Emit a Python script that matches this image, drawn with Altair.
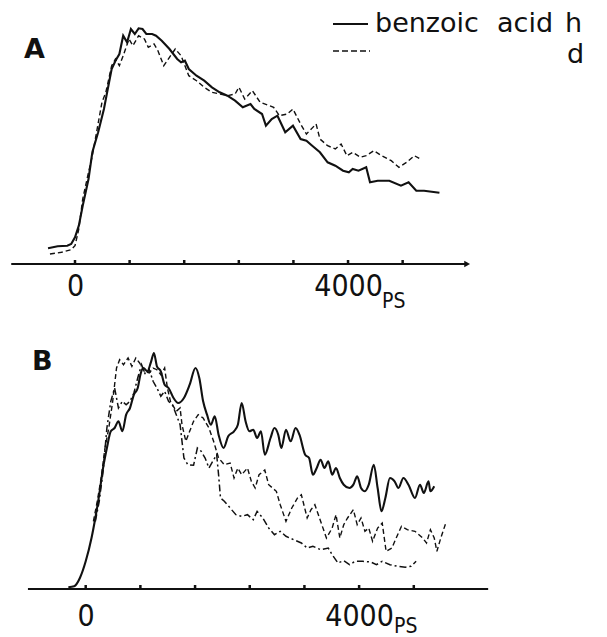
import altair as alt
import pandas as pd

# ---------------- data (time in ps, signal in arbitrary units) ----------------
A_h_ps = [-395, -254, -113, -56, 0, 56, 113, 198, 254, 339, 424, 480, 537, 593, 650, 706, 763, 819, 876, 932,
          989, 1045, 1130, 1187, 1271, 1384, 1497, 1554, 1610, 1667, 1780, 1893, 2006, 2119, 2232, 2345, 2458,
          2571, 2627, 2740, 2797, 2882, 2966, 3080, 3193, 3305, 3390, 3475, 3588, 3701, 3814, 3927, 4012, 4068,
          4153, 4266, 4322, 4435, 4605, 4775, 4887, 5000, 5114, 5226, 5339]
A_h_v = [15.7, 17.7, 18.3, 20, 26.7, 38.3, 58.3, 85, 111.7, 131.7, 155, 175, 195, 203.3, 210, 228.3, 221.7, 235,
         230, 235.7, 235, 230, 230, 228.3, 223.3, 215, 205, 201.7, 203.3, 195, 188.3, 183.3, 176.7, 171.7, 168.3,
         163.3, 156.7, 160, 155, 150, 138.3, 145, 148.3, 131.7, 138.3, 125, 123.3, 118.3, 111.7, 101.7, 98.3,
         93.3, 91.7, 95, 93.3, 96.7, 81.7, 83.3, 83.3, 78.3, 81.7, 73.3, 73.3, 72.3, 71.3]

A_d_ps = [-367, -198, -56, 0, 56, 113, 198, 254, 395, 452, 537, 593, 650, 706, 791, 848, 932, 1017, 1074, 1158,
          1215, 1300, 1384, 1469, 1554, 1667, 1780, 1893, 2006, 2119, 2232, 2345, 2402, 2486, 2599, 2712, 2910,
          2995, 3108, 3193, 3305, 3390, 3532, 3588, 3701, 3814, 3899, 3983, 4068, 4181, 4266, 4379, 4492, 4633,
          4746, 4859, 4972, 5057]
A_d_v = [10, 11.7, 14.3, 18.3, 35, 65, 91.7, 108.3, 161.7, 171.7, 198.3, 205, 198.3, 208.3, 225, 218.3, 228.3,
         225, 216.7, 220, 213.3, 198.3, 206.7, 215, 208.3, 188.3, 183.3, 176.7, 171.7, 170, 168.3, 170, 176.7,
         165, 173.3, 161.7, 156.7, 148.3, 150, 155, 140, 130, 140, 125, 118.3, 115, 120, 108.3, 111.7, 106.7,
         108.3, 113.3, 108.3, 103.3, 96.7, 101.7, 108.3, 105]

B_h_ps = [-254, -169, -85, 0, 85, 141, 198, 254, 310, 367, 423, 479, 536, 592, 648, 705, 761, 800, 845, 902, 958,
          998, 1042, 1099, 1155, 1212, 1285, 1352, 1437, 1521, 1606, 1662, 1718, 1775, 1831, 1888, 1944, 2017,
          2085, 2170, 2226, 2282, 2339, 2395, 2451, 2508, 2564, 2620, 2704, 2761, 2817, 2862, 2930, 2998, 3071,
          3127, 3211, 3268, 3324, 3380, 3437, 3493, 3549, 3606, 3662, 3718, 3775, 3859, 3916, 3972, 4028, 4085,
          4141, 4215, 4271, 4327, 4384, 4451, 4519, 4575, 4648, 4722, 4817, 4891, 4947, 5015, 5043, 5099]
B_h_v = [1.7, 2.7, 11, 27.7, 51, 71, 94.3, 121, 141, 157.7, 161, 167.7, 157.7, 174.3, 181, 194.3, 201, 214.3,
         221, 217.7, 227.7, 236, 222.7, 217.7, 204.3, 201, 191, 186, 191, 204.3, 221, 211, 187.7, 174.3, 164.3,
         172.7, 154.3, 141, 152.7, 157.7, 164.3, 186, 167.7, 157.7, 159.3, 151, 157.7, 134.3, 151, 161, 154.3,
         141, 159.3, 147.7, 161, 154.3, 134.3, 131, 114.3, 121, 129.3, 121, 127.7, 114.3, 121, 111, 104.3, 101,
         104.3, 112.7, 101, 97.7, 104.3, 124.3, 101, 77.7, 91, 111, 107.7, 101, 111, 104.3, 91, 104.3, 96, 107.7,
         97.7, 102.7]

B_d_ps = [113, 169, 226, 282, 338, 395, 451, 496, 553, 620, 676, 733, 789, 857, 930, 986, 1042, 1099, 1155, 1195,
          1240, 1325, 1381, 1409, 1465, 1521, 1578, 1646, 1718, 1803, 1871, 1944, 2028, 2113, 2170, 2226, 2282,
          2367, 2423, 2479, 2536, 2620, 2677, 2733, 2789, 2846, 2930, 3015, 3099, 3155, 3240, 3296, 3353, 3437,
          3522, 3606, 3662, 3718, 3775, 3831, 3916, 3972, 4028, 4085, 4141, 4197, 4271, 4338, 4395, 4479, 4564,
          4620, 4705, 4817, 4930, 4986, 5043, 5099, 5138, 5195, 5268]
B_d_v = [67.7, 87.7, 111, 141, 161, 187.7, 221, 229.3, 224.3, 231, 222.7, 231, 226, 217.7, 216, 221, 219.3,
         214.3, 221, 201, 187.7, 177.7, 181, 164.3, 147.7, 157.7, 167.7, 174.3, 171, 161, 147.7, 131, 124.3, 126,
         111, 121, 114.3, 121, 107.7, 101, 114.3, 119, 104.3, 101, 97.7, 84.3, 67.7, 81, 91, 94.3, 71, 79.3, 84.3,
         67.7, 51, 61, 74.3, 51, 64.3, 71, 79.3, 64.3, 71, 57.7, 61, 47.7, 61, 66, 37.7, 41, 54.3, 62.7, 59.3,
         57.7, 51, 46, 59.3, 51, 37.7, 51, 66]

B_c_ps = [141, 198, 254, 310, 367, 423, 479, 536, 592, 648, 705, 761, 817, 874, 930, 986, 1042, 1099, 1155, 1212,
          1268, 1325, 1381, 1409, 1437, 1494, 1578, 1634, 1690, 1747, 1803, 1859, 1916, 1944, 1972, 2028, 2113,
          2197, 2282, 2367, 2451, 2508, 2592, 2677, 2761, 2846, 2930, 3042, 3155, 3240, 3324, 3437, 3549, 3606,
          3691, 3775, 3859, 3944, 4056, 4169, 4254, 4338, 4451, 4564, 4676, 4761, 4834]
B_c_v = [67.7, 87.7, 117.7, 161, 187.7, 201, 181, 187.7, 184.3, 187.7, 196, 211, 224.3, 214.3, 219.3, 207.7, 201,
         192.7, 197.7, 187.7, 184.3, 174.3, 164.3, 147.7, 131, 124.3, 123.7, 141, 137.7, 131, 121, 127.7, 134.3,
         114.3, 91, 87.7, 81, 74.3, 72.7, 74.3, 69.3, 77.7, 71, 61, 54.3, 57.7, 52.7, 49.3, 46, 41, 42.7, 39.3,
         41, 34.3, 26, 28.3, 24.3, 27.7, 27.7, 27, 24.3, 27.7, 24.3, 22.7, 21.7, 22.7, 27.7]

tick_ps = [0, 800, 1600, 2400, 3200, 4000, 4800]
label_ps = [0, 4000]
axis_A = [-934, 5745]
axis_B = [-845, 5888]
legend_words = ["benzoic", "acid", "h", "d"]

INK = "#111111"
NUM_FONT = "DejaVu Sans Condensed, DejaVu Sans"
TXT_FONT = "DejaVu Sans"


def series(ps, v, name):
    return pd.DataFrame({"ps": ps, "v": v, "s": name})


def panel(curves, xdom, ydom, height, axis_range, arrow, label, pad, legend):
    xs = alt.Scale(domain=xdom, nice=False, zero=False)
    ys = alt.Scale(domain=ydom, nice=False, zero=False)
    xaxis = alt.Axis(values=label_ps, domain=False, ticks=False, grid=False, title=None, format="d",
                     labelFontSize=30, labelFont=NUM_FONT, labelColor=INK, labelPadding=pad,
                     labelFlush=False, labelOverlap=False, labelFontWeight="normal")

    def X(f="ps"):
        return alt.X(f"{f}:Q", scale=xs, axis=xaxis)

    def Y(f="v"):
        return alt.Y(f"{f}:Q", scale=ys, axis=None)

    layers = []
    for df, dash, sw, interp in curves:
        kw = {"strokeDash": dash} if dash else {}
        layers.append(alt.Chart(df).mark_line(color=INK, strokeWidth=sw, interpolate=interp, **kw)
                      .encode(x=X(), y=Y(), order="ps:Q"))
    # axis line
    ax = pd.DataFrame({"ps": [axis_range[0]], "ps2": [axis_range[1]], "v": [0]})
    layers.append(alt.Chart(ax).mark_rule(color=INK, strokeWidth=2.2).encode(x=X(), x2="ps2:Q", y=Y()))
    # small upward tick bumps
    tk = pd.DataFrame({"ps": tick_ps, "v": [0] * len(tick_ps), "v2": [4] * len(tick_ps)})
    layers.append(alt.Chart(tk).mark_rule(color=INK, strokeWidth=2.5).encode(x=X(), y=Y(), y2="v2:Q"))
    if arrow:
        ar = pd.DataFrame({"ps": [axis_range[1]], "v": [0]})
        layers.append(alt.Chart(ar).mark_point(shape="triangle-right", filled=True, size=45, color=INK,
                                                opacity=1).encode(x=X(), y=Y()))
    # "PS" unit subscript next to 4000
    ps_df = pd.DataFrame({"ps": [4000], "v": [-44], "t": ["PS"]})
    layers.append(alt.Chart(ps_df).mark_text(align="left", baseline="alphabetic", fontSize=21, font=NUM_FONT,
                                             color=INK, dx=legend["psdx"])
                  .encode(x=X(), y=Y(), text="t:N"))
    # panel letter
    layers.append(alt.Chart(pd.DataFrame({"t": [label]})).mark_text(
        align="left", baseline="alphabetic", fontSize=27, fontWeight="bold", font=TXT_FONT, color=INK)
        .encode(x=alt.value(legend["lx"]), y=alt.value(legend["ly"]), text="t:N"))
    if legend.get("show"):
        layers.append(alt.Chart(pd.DataFrame({"a": [0]})).mark_rule(color=INK, strokeWidth=1.8)
                      .encode(x=alt.value(333), x2=alt.value(368), y=alt.value(24)))
        layers.append(alt.Chart(pd.DataFrame({"a": [0]})).mark_rule(color=INK, strokeWidth=1.5,
                                                                     strokeDash=[6, 3])
                      .encode(x=alt.value(333), x2=alt.value(370), y=alt.value(51)))
        txt = pd.DataFrame({"t": legend_words, "x": [375, 497, 565, 567], "y": [32, 32, 32, 63]})
        layers.append(alt.Chart(txt).mark_text(align="left", baseline="alphabetic", fontSize=27,
                                               font=TXT_FONT, color=INK)
                      .encode(x=alt.X("x:Q", scale=None), y=alt.Y("y:Q", scale=None), text="t:N"))
    return alt.layer(*layers).properties(width=607, height=height)


A = panel(
    [(series(A_h_ps, A_h_v, "h"), None, 2.1, "linear"), (series(A_d_ps, A_d_v, "d"), [5, 3], 1.4, "linear")],
    xdom=[-75 * 14.65, (607 - 75) * 14.65], ydom=[0, 264], height=264,
    axis_range=axis_A, arrow=True, label="A", pad=7,
    legend={"show": True, "lx": 24, "ly": 58, "psdx": 34},
)
B = panel(
    [(series(B_h_ps, B_h_v, "h"), None, 2.1, "monotone"), (series(B_d_ps, B_d_v, "d"), [5, 3], 1.4, "linear"),
     (series(B_c_ps, B_c_v, "c"), [7, 3, 2, 3], 1.5, "linear")],
    xdom=[-85.7 * 14.63, (607 - 85.7) * 14.63], ydom=[0, 259], height=259,
    axis_range=axis_B, arrow=False, label="B", pad=12,
    legend={"show": False, "lx": 32, "ly": 40, "psdx": 35},
)

chart = (alt.vconcat(A, B, spacing=66, bounds="flush")
         .properties(padding=0, background="white")
         .configure_view(strokeWidth=0))

chart.save("out.html", embed_options={"renderer": "svg", "actions": False})
